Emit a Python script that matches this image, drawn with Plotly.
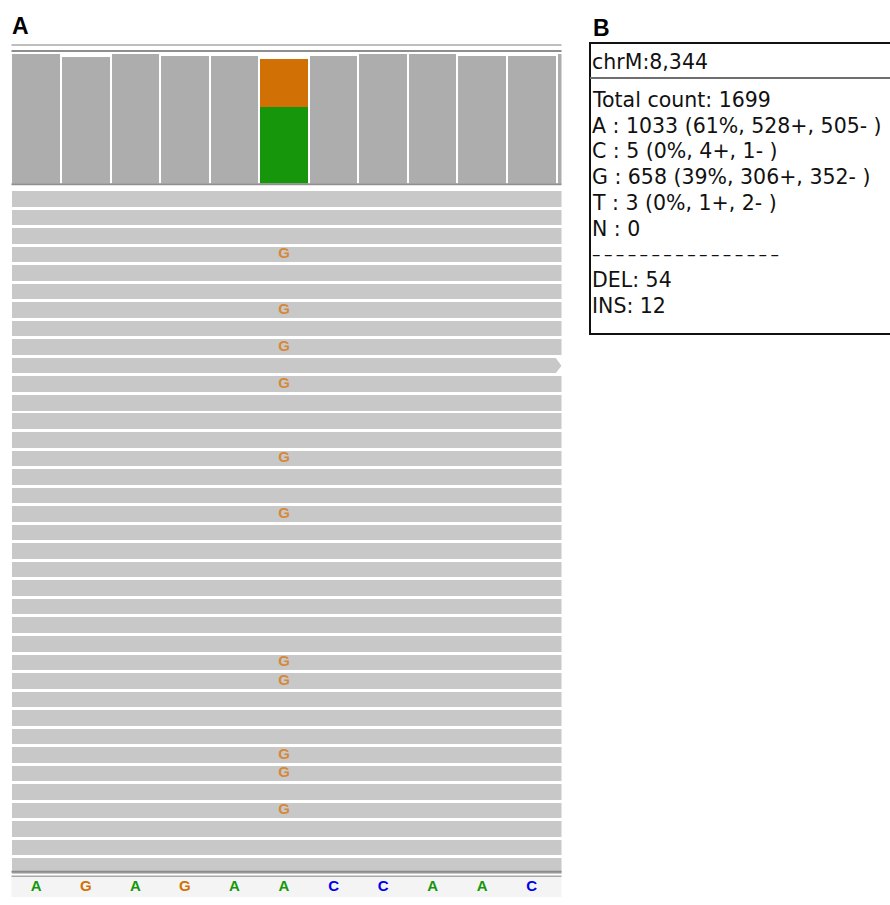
import plotly.graph_objects as go

# ---- data -------------------------------------------------------------
locus = "chrM:8,344"
positions = list(range(1, 12))
ref_bases = ["A", "G", "A", "G", "A", "A", "C", "C", "A", "A", "C"]

# depth at the non-variant columns (plus the clipped column to the right)
depth_positions = [1, 2, 3, 4, 5, 7, 8, 9, 10, 11, 12]
depth_values = [1757, 1716, 1757, 1730, 1730, 1730, 1757, 1757, 1730, 1730, 1757]

# allele counts at the variant column
variant_position = 6
alleles = ["A", "C", "G", "T"]
allele_total = [1033, 5, 658, 3]
allele_plus = [528, 4, 306, 1]
allele_minus = [505, 1, 352, 2]
n_count = 0
del_count = 54
ins_count = 12
# alleles drawn as coloured blocks in the coverage column (others are too small to see)
drawn_alleles = ["A", "G"]

# reads shown in the alignment panel
n_reads = 37
read_start = 0.5
read_end = [11.6] * n_reads
pointed_read = 9
read_end[pointed_read] = 11.48
mismatch_rows = [3, 6, 8, 10, 14, 17, 25, 26, 30, 31, 33]
mismatch_base = "G"

# ---- styling ------------------------------------------------------------
W, H = 890, 905
base_colors = {"A": "rgb(22,150,10)", "C": "rgb(0,0,235)",
               "G": "rgb(209,113,5)", "T": "rgb(220,0,0)"}
cov_grey = "#adadad"
read_grey = "#c8c8c8"


def fx(px):
    return px / W


def fy(py):
    return 1 - py / H


fig = go.Figure()

# coverage track
fig.add_trace(go.Bar(x=depth_positions, y=depth_values, width=0.96,
                     marker=dict(color=cov_grey, line=dict(width=0)),
                     xaxis="x", yaxis="y", hoverinfo="skip"))
for base, count in zip(alleles, allele_total):
    if base not in drawn_alleles:
        continue
    fig.add_trace(go.Bar(x=[variant_position], y=[count], width=0.96,
                         marker=dict(color=base_colors[base], line=dict(width=0)),
                         xaxis="x", yaxis="y", hoverinfo="skip"))

# reads
rows = list(range(n_reads))
fig.add_trace(go.Bar(y=rows, x=[e - read_start for e in read_end],
                     base=[read_start] * n_reads, orientation="h", width=0.84,
                     marker=dict(color=read_grey, line=dict(width=0)),
                     xaxis="x", yaxis="y2", hoverinfo="skip"))
# strand arrow tip on one read
fig.add_trace(go.Scatter(x=[11.48, 11.6, 11.48], y=[pointed_read - 0.42, pointed_read, pointed_read + 0.42],
                         fill="toself", fillcolor=read_grey, mode="lines",
                         line=dict(width=0, color=read_grey),
                         xaxis="x", yaxis="y2", hoverinfo="skip"))
# mismatching bases
fig.add_trace(go.Scatter(x=[variant_position] * len(mismatch_rows), y=mismatch_rows,
                         mode="text", text=[f"<b>{mismatch_base}</b>"] * len(mismatch_rows),
                         textfont=dict(family="Liberation Sans", size=15, color="#d6883a"),
                         xaxis="x", yaxis="y2", hoverinfo="skip"))

# reference sequence
fig.add_trace(go.Scatter(x=positions, y=[0] * len(positions), mode="text",
                         text=[f"<b>{b}</b>" for b in ref_bases],
                         textfont=dict(family="Liberation Sans", size=15,
                                       color=[base_colors[b] for b in ref_bases]),
                         xaxis="x", yaxis="y3", hoverinfo="skip"))

x_dom = [fx(11.5), fx(561.5)]
hidden = dict(visible=False, showgrid=False, zeroline=False, fixedrange=True)
fig.update_layout(
    width=W, height=H, margin=dict(l=0, r=0, t=0, b=0),
    paper_bgcolor="white", plot_bgcolor="rgba(0,0,0,0)",
    showlegend=False, barmode="stack",
    xaxis=dict(domain=x_dom, range=[0.5, 11.6], **hidden),
    yaxis=dict(domain=[fy(183.5), fy(45)], range=[0, 1880], anchor="x", **hidden),
    yaxis2=dict(domain=[fy(875.5), fy(189.5)], range=[36.5, -0.5], anchor="x", **hidden),
    yaxis3=dict(domain=[fy(898), fy(877)], range=[-0.5, 0.5], anchor="x", **hidden),
)

shapes = []
# reference band background
shapes.append(dict(type="rect", xref="paper", yref="paper", x0=x_dom[0], x1=x_dom[1],
                   y0=fy(897), y1=fy(877), fillcolor="#f4f4f4", line=dict(width=0), layer="below"))
# track separators
for py, col, w in [(45, "#a8a8a8", 1.5), (51, "#8e8e8e", 2), (184.3, "#909090", 2),
                   (871.7, "#8a8a8a", 2), (876.3, "#a8a8a8", 1.5)]:
    shapes.append(dict(type="line", xref="paper", yref="paper", x0=x_dom[0], x1=x_dom[1],
                       y0=fy(py), y1=fy(py), line=dict(color=col, width=w)))

# popup box for panel B
shapes.append(dict(type="rect", xref="paper", yref="paper", x0=fx(590), x1=fx(905),
                   y0=fy(334), y1=fy(43), line=dict(color="#111111", width=2)))
shapes.append(dict(type="line", xref="paper", yref="paper", x0=fx(590), x1=fx(905),
                   y0=fy(78), y1=fy(78), line=dict(color="#6e6e6e", width=2)))
fig.update_layout(shapes=shapes)

annotations = [
    dict(text="<b>A</b>", x=fx(9.5), y=fy(26), xanchor="left", yanchor="middle",
         font=dict(family="Liberation Sans", size=23, color="black")),
    dict(text="<b>B</b>", x=fx(591), y=fy(28), xanchor="left", yanchor="middle",
         font=dict(family="Liberation Sans", size=23, color="black")),
]

total = sum(allele_total)
info_lines = [f"Total count: {total}"]
for b, c, p, m in zip(alleles, allele_total, allele_plus, allele_minus):
    info_lines.append(f"{b} : {c} ({round(100 * c / total)}%, {p}+, {m}- )")
info_lines.append(f"N : {n_count}")
info_lines.append("\u2013\u2009" * 16)
info_lines.append(f"DEL: {del_count}")
info_lines.append(f"INS: {ins_count}")

txt_font = dict(family="DejaVu Sans", size=20.5, color="#111111")
annotations.append(dict(text=locus, x=fx(590), y=fy(62), xanchor="left", yanchor="middle",
                        showarrow=False, font=txt_font))
pitch = 25.75
for i, line in enumerate(info_lines):
    f = txt_font
    if line.startswith("\u2013"):
        f = dict(family="DejaVu Sans", size=17, color="#111111")
    annotations.append(dict(text=line, x=fx(590), y=fy(100 + pitch * i), xanchor="left",
                            yanchor="middle", showarrow=False, font=f))
for a in annotations:
    a.setdefault("showarrow", False)
    a["xref"] = "paper"
    a["yref"] = "paper"
fig.update_layout(annotations=annotations)

fig.write_html("out.html", config={"displayModeBar": False})
